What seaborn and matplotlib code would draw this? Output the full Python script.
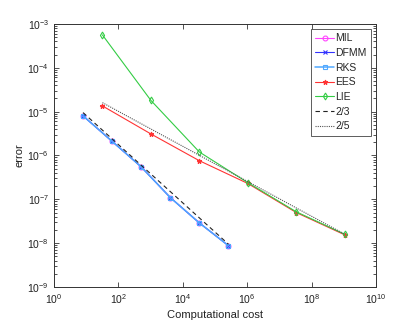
import numpy as np
import pandas as pd
import matplotlib
matplotlib.use("Agg")
import matplotlib.pyplot as plt
import seaborn as sns
from matplotlib.ticker import LogLocator, NullFormatter

# Data
cost_a = [8, 64, 512, 4096, 32768, 262144]
err_mil = [8.0e-6, 2.1e-6, 5.5e-7, 1.1e-7, 2.9e-8, 8.8e-9]
err_dfmm = [8.0e-6, 2.1e-6, 5.5e-7, 1.1e-7, 2.9e-8, 8.8e-9]
err_rks = [8.0e-6, 2.1e-6, 5.5e-7, 1.1e-7, 2.9e-8, 8.8e-9]
cost_b = [32, 1024, 32768, 1048576, 33554432, 1073741824]
err_ees = [1.35e-5, 3.1e-6, 7.6e-7, 2.3e-7, 5.0e-8, 1.55e-8]
err_lie = [5.6e-4, 1.8e-5, 1.2e-6, 2.4e-7, 5.2e-8, 1.6e-8]
ref23_x = [8, 262144]
ref23_y = [9.5e-6, 9.5e-9]
ref25_x = [32, 1073741824]
ref25_y = [1.6e-5, 1.6e-8]

sns.set_style("ticks")
plt.rcParams['font.family'] = ['Liberation Sans', 'DejaVu Sans']
plt.rcParams['mathtext.fontset'] = 'custom'
plt.rcParams['mathtext.rm'] = 'Liberation Sans'

fig = plt.figure(figsize=(4.15, 3.27), dpi=100)
ax = fig.add_axes([0.130, 0.122, 0.776, 0.805])

series = [
    ("MIL", cost_a, err_mil, '#ff44ff', 'o', 0.8, 3.5),
    ("DFMM", cost_a, err_dfmm, '#3333ff', 'x', 0.8, 3.5),
    ("RKS", cost_a, err_rks, '#4fa8ff', 's', 1.1, 3.5),
    ("EES", cost_b, err_ees, '#ff3333', '*', 0.8, 3.5),
    ("LIE", cost_b, err_lie, '#33cc44', 'd', 0.8, 3.5),
]
for name, xs, ys, c, m, lw, ms in series:
    df = pd.DataFrame({"x": xs, "y": ys})
    mfc = 'none' if m in ('o', 's', 'd') else c
    sns.lineplot(data=df, x="x", y="y", ax=ax, color=c, lw=lw, marker=m,
                 markersize=ms, markerfacecolor=mfc, markeredgecolor=c,
                 markeredgewidth=0.8, label=name)

sns.lineplot(data=pd.DataFrame({"x": ref23_x, "y": ref23_y}), x="x", y="y", ax=ax,
             color='#222222', lw=0.8, label="2/3")
ax.lines[-1].set_linestyle((0, (4, 3)))
sns.lineplot(data=pd.DataFrame({"x": ref25_x, "y": ref25_y}), x="x", y="y", ax=ax,
             color='#555555', lw=0.8, label="2/5")
ax.lines[-1].set_linestyle((0, (1, 1)))

ax.set_xscale('log')
ax.set_yscale('log')
ax.set_xlim(1, 1e10)
ax.set_ylim(1e-9, 1e-3)
ax.set_xticks([1e0, 1e2, 1e4, 1e6, 1e8, 1e10])
ax.xaxis.set_minor_locator(plt.NullLocator())
ax.yaxis.set_major_locator(LogLocator(base=10, numticks=10))
ax.yaxis.set_minor_locator(LogLocator(base=10, subs=np.arange(2, 10), numticks=10))
ax.yaxis.set_minor_formatter(NullFormatter())

for s in ax.spines.values():
    s.set_visible(True)
    s.set_color('#333333')
    s.set_linewidth(0.7)
ax.tick_params(which='both', direction='in', top=True, right=True,
               labelsize=7.5, colors='#333333', labelcolor='#222222', width=0.6)
ax.tick_params(which='major', length=3.5)
ax.tick_params(which='minor', length=2)

ax.set_xlabel("Computational cost", fontsize=8, color='#222222', labelpad=3)
ax.set_ylabel("error", fontsize=8, color='#222222', labelpad=2)

leg = ax.legend(loc='upper right', fontsize=7.5, frameon=True, fancybox=False,
                edgecolor='#333333', handlelength=1.8, handletextpad=0.1,
                borderpad=0.4, labelspacing=0.45, borderaxespad=0.5)
leg.get_frame().set_linewidth(0.7)

fig.savefig("out.png", dpi=100)
